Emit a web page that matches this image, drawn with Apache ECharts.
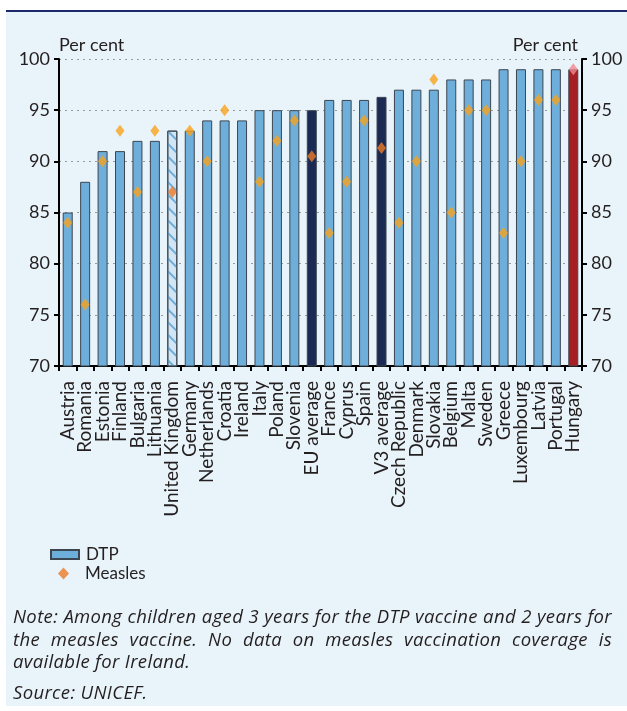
<!DOCTYPE html>
<html>
<head>
<meta charset="utf-8">
<script src="https://cdn.jsdelivr.net/npm/echarts@6/dist/echarts.min.js"></script>
<style>
  html, body { margin: 0; padding: 0; background: #ffffff; }
  #wrap { position: relative; width: 627px; height: 711px; overflow: hidden; }
  #panel { position: absolute; left: 6px; top: 10px; width: 621px; height: 694px;
           background: #e9f3fa; border-top: 2px solid #1c2a6a; }
  #chart { position: absolute; left: 0; top: 0; width: 627px; height: 711px; }
  .note { position: absolute; left: 13px; width: 599px; font-family: "Open Sans", Lato, sans-serif;
          font-style: italic; font-size: 18.5px; line-height: 22px; letter-spacing: 0.35px;
          color: #231f20; white-space: nowrap; }
  .just { text-align: justify; text-align-last: justify; }
</style>
</head>
<body>
<div id="wrap">
  <div id="panel"></div>
  <div id="chart"></div>
  <div class="note just" style="top:605px;">Note: Among children aged 3 years for the DTP vaccine and 2 years for</div>
  <div class="note just" style="top:628px;">the measles vaccine. No data on measles vaccination coverage is</div>
  <div class="note" style="top:650px;">available for Ireland.</div>
  <div class="note" style="top:681px;">Source: UNICEF.</div>
</div>
<script>
// Vaccination coverage, per cent
const categories = ['Austria', 'Romania', 'Estonia', 'Finland', 'Bulgaria', 'Lithuania',
  'United Kingdom', 'Germany', 'Netherlands', 'Croatia', 'Ireland', 'Italy', 'Poland',
  'Slovenia', 'EU average', 'France', 'Cyprus', 'Spain', 'V3 average', 'Czech Republic',
  'Denmark', 'Slovakia', 'Belgium', 'Malta', 'Sweden', 'Greece', 'Luxembourg', 'Latvia',
  'Portugal', 'Hungary'];

const dtp = [85, 88, 91, 91, 92, 92, 93, 93, 94, 94, 94, 95, 95, 95, 95, 96, 96, 96, 96.3,
  97, 97, 97, 98, 98, 98, 99, 99, 99, 99, 99];

// Ireland has no measles figure
const measles = [84, 76, 90, 93, 87, 93, 87, 93, 90, 95, null, 88, 92, 94, 90.5, 83, 88, 94,
  91.3, 84, 90, 98, 85, 95, 95, 83, 90, 96, 96, 99];

const yTicks = { min: 70, max: 100, interval: 5 };

const averages = ['EU average', 'V3 average'];
const hatched = ['United Kingdom'];
const highlight = ['Hungary'];

const BAR = '#6eaedb', NAVY = '#1a2a52', RED = '#a61f24';
const ORANGE = '#f8a21c', DARK_ORANGE = '#ec7a28', PINK = '#f08a8e';
const FONT = 'Lato, "Open Sans", sans-serif';
const INK = '#231f20';

const barData = dtp.map((v, i) => {
  const c = categories[i];
  let style = { color: BAR };
  if (averages.includes(c)) style = { color: NAVY };
  else if (highlight.includes(c)) style = { color: RED };
  else if (hatched.includes(c)) style = {
    color: '#d2e5f4',
    decal: { symbol: 'rect', symbolSize: 1, dashArrayX: [1, 0], dashArrayY: [1.5, 7],
             rotation: Math.PI / 4, color: '#6eaedb' }
  };
  return { value: v, itemStyle: style };
});

const measlesData = measles.map((v, i) => {
  const c = categories[i];
  if (v === null) return '-';
  let color = ORANGE;
  if (averages.includes(c) || hatched.includes(c)) color = DARK_ORANGE;
  else if (highlight.includes(c)) color = PINK;
  return { value: v, itemStyle: { color } };
});

const yAxisBase = {
  type: 'value', min: yTicks.min, max: yTicks.max, interval: yTicks.interval,
  axisLine: { show: true, lineStyle: { color: '#000', width: 2 } },
  axisTick: { show: true, length: 5, lineStyle: { color: '#000', width: 2 } },
  axisLabel: { color: INK, fontFamily: FONT, fontSize: 18, margin: 9 },
  name: 'Per cent', nameGap: 5,
  nameTextStyle: { color: INK, fontFamily: FONT, fontSize: 18 }
};

const chart = echarts.init(document.getElementById('chart'), null, { renderer: 'canvas' });
chart.setOption({
  backgroundColor: 'transparent',
  animation: false,
  grid: { left: 59, right: 45, top: 59, bottom: 345, containLabel: false },
  legend: [
    { data: ['DTP'], left: 50, top: 546, padding: 0, icon: 'rect', itemWidth: 28, itemHeight: 9,
      textStyle: { color: INK, fontFamily: FONT, fontSize: 17, padding: [0, 0, 0, 2] } },
    { data: [{ name: 'Measles', itemStyle: { color: DARK_ORANGE } }], left: 58, top: 565, padding: 0,
      icon: 'diamond', itemWidth: 11, itemHeight: 12,
      textStyle: { color: INK, fontFamily: FONT, fontSize: 17, padding: [0, 0, 0, 11] } }
  ],
  xAxis: {
    type: 'category', data: categories, boundaryGap: true,
    axisLine: { lineStyle: { color: '#000', width: 2 } },
    axisTick: { show: true, length: 5, alignWithLabel: false, lineStyle: { color: '#000', width: 2 } },
    axisLabel: { interval: 0, rotate: 90, color: INK, fontFamily: FONT, fontSize: 19, margin: 15 }
  },
  yAxis: [
    Object.assign({}, yAxisBase, {
      position: 'left',
      nameTextStyle: Object.assign({}, yAxisBase.nameTextStyle, { align: 'left' }),
      splitLine: { show: true, lineStyle: { color: '#9a9a9a', type: [2, 4], width: 1 } }
    }),
    Object.assign({}, yAxisBase, {
      position: 'right',
      nameTextStyle: Object.assign({}, yAxisBase.nameTextStyle, { align: 'right', padding: [0, 4, 0, 0] }),
      splitLine: { show: false }
    })
  ],
  series: [
    {
      name: 'DTP', type: 'bar', data: barData, barWidth: 10,
      itemStyle: { color: BAR, borderColor: '#3c4650', borderWidth: 1 },
      z: 2
    },
    {
      name: 'Measles', type: 'scatter', data: measlesData,
      symbol: 'diamond', symbolSize: [9, 12],
      itemStyle: { color: ORANGE },
      z: 3
    }
  ]
});
</script>
</body>
</html>
